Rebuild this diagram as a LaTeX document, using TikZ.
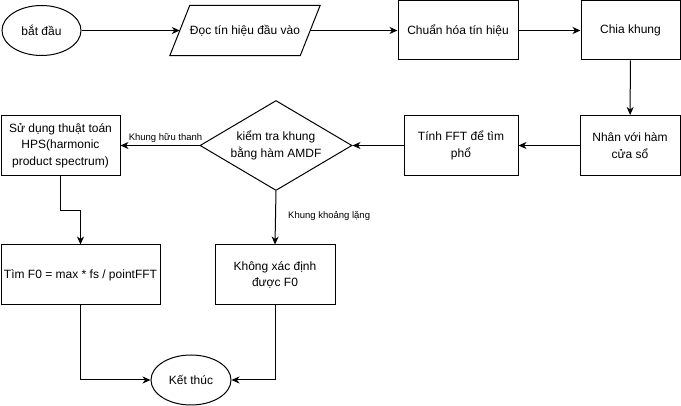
\documentclass[tikz,border=0pt]{standalone}
\usepackage{fontspec}
\setmainfont{Liberation Sans}
\usetikzlibrary{shapes.geometric,arrows.meta,calc}
\begin{document}
\begin{tikzpicture}[x=1pt,y=-1pt,
  every node/.style={font=\fontsize{12}{16.5}\selectfont, align=center, inner sep=0pt},
  box/.style={draw, line width=1pt, rectangle, minimum width=120pt, minimum height=60pt},
  oval/.style={draw, line width=1pt, ellipse, minimum width=80pt, minimum height=50pt},
  decision/.style={draw, line width=1pt, diamond, aspect=1.69, minimum width=152pt, minimum height=90pt},
  arr/.style={line width=1pt, -{Stealth[length=8pt,width=7pt,inset=2.5pt]}},
  lbl/.style={font=\fontsize{9.5}{11}\selectfont}]
\useasboundingbox (0,0) rectangle (681,406);

% top row
\node[oval, minimum width=79pt] (start) at (41.5,30.5) {bắt đầu};
\node[minimum width=130pt, minimum height=50pt] (read) at (245,30.5) {Đọc tín hiệu đầu vào};
\draw[line width=1pt] ([xshift=-10pt]read.south west) -- ([xshift=10pt]read.north west)
  -- ([xshift=10pt]read.north east) -- ([xshift=-10pt]read.south east) -- cycle;
\node[box, minimum height=59pt] (chuan) at (458,30.5) {Chuẩn hóa tín hiệu};
\node[box, minimum width=99pt, minimum height=59pt] (chia) at (630.5,30.5) {Chia khung};

% middle row
\node[box, minimum width=100pt] (nhan) at (630,145.5) {Nhân với hàm\\cửa sổ};
\node[box, minimum width=114pt] (fft) at (461,145.5) {Tính FFT để tìm\\phổ};
\node[decision] (check) at (276,145.5) {kiểm tra khung\\bằng hàm AMDF};
\node[box, minimum width=119pt] (hps) at (60.5,145.5) {Sử dụng thuật toán\\HPS(harmonic\\product spectrum)};

% bottom rows
\node[box, minimum width=159pt] (tim) at (80.5,275) {Tìm F0 = max * fs / pointFFT};
\node[box] (khong) at (275,275) {Không xác định\\được F0};
\node[oval] (end) at (191,380) {Kết thúc};

% connectors
\draw[arr] (start) -- (read.west);
\draw[arr] (read.east) -- (chuan.west);
\draw[arr] (chuan) -- (chia);
\draw[arr] (chia) -- (nhan);
\draw[arr] (nhan) -- (fft);
\draw[arr] (fft) -- (check);
\draw[arr] (check.west) -- node[lbl, pos=0.43, above=2.5pt] {Khung hữu thanh} (hps.east);
\coordinate (bend) at ($(hps.south)!0.5!(tim.north)$);
\draw[arr] (hps.south) |- (bend) -| (tim.north);
\draw[arr] (check.south) -- (khong.north);
\coordinate (lblpt) at (288,216);
\node[lbl, anchor=west] (silence) at (lblpt) {Khung khoảng lặng};
\draw[arr] (tim.south) |- (end.west);
\draw[arr] (khong.south) |- (end.east);
\end{tikzpicture}
\end{document}
